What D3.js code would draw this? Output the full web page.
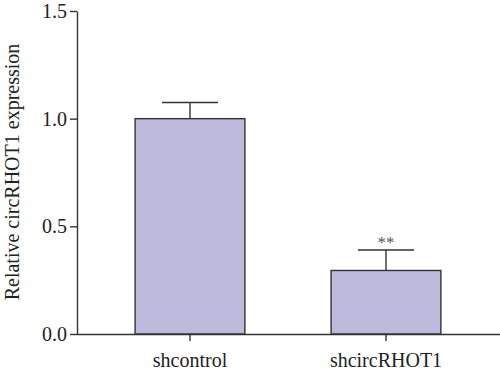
<!DOCTYPE html>
<html>
<head>
  <script src="https://d3js.org/d3.v7.min.js"></script>
  <style>
    body { margin: 0; background: #fff; }
  </style>
</head>
<body>
  <svg id="canvas" width="500" height="372"></svg>
</body>
<script>
  const groups = ["shcontrol", "shcircRHOT1"];
  const means = [1.0, 0.295];
  const errors = [0.075, 0.095];
  const marks = ["", "**"];
  const yTicks = [0, 0.5, 1.0, 1.5];

  const serif = "'Liberation Serif'";
  const svg = d3.select("svg");
  const axisX = 77, baseY = 334, topY = 11;

  const y = d3.scaleLinear().domain([0, 1.5]).range([baseY, topY]);
  const x = d3.scaleBand().domain(groups).range([92, 484]).padding(0);
  const barW = x.bandwidth() * 0.56;

  // bars
  svg.selectAll("rect.bar")
    .data(groups)
    .enter().append("rect")
      .attr("class", "bar")
      .attr("x", d => x(d) + (x.bandwidth() - barW) / 2)
      .attr("y", (d, i) => y(means[i]))
      .attr("width", barW)
      .attr("height", (d, i) => baseY - y(means[i]))
      .attr("fill", "#bebadc")
      .attr("stroke", "#333")
      .attr("stroke-width", 1.4);

  // error bars (upper only)
  const capW = barW * 0.51;
  groups.forEach((g, i) => {
    const cx = x(g) + x.bandwidth() / 2;
    const top = y(means[i] + errors[i]);
    svg.append("line")
      .attr("x1", cx).attr("x2", cx)
      .attr("y1", y(means[i])).attr("y2", top)
      .attr("stroke", "#333").attr("stroke-width", 1.4);
    svg.append("line")
      .attr("x1", cx - capW / 2).attr("x2", cx + capW / 2)
      .attr("y1", top).attr("y2", top)
      .attr("stroke", "#333").attr("stroke-width", 1.4);
    if (marks[i]) {
      svg.append("text")
        .attr("x", cx)
        .attr("y", top - 2)
        .attr("text-anchor", "middle")
        .style("font-family", serif)
        .style("font-size", "17px")
        .style("fill", "#555")
        .text(marks[i]);
    }
  });

  // y axis
  const yAxis = svg.append("g")
    .attr("transform", `translate(${axisX},0)`)
    .call(d3.axisLeft(y).tickValues(yTicks).tickFormat(d3.format(".1f")).tickSize(7).tickSizeOuter(0));
  yAxis.attr("font-family", null);
  yAxis.select(".domain").attr("stroke", "#333").attr("stroke-width", 1.4);
  yAxis.selectAll(".tick line").attr("stroke", "#333").attr("stroke-width", 1.4);
  yAxis.selectAll(".tick text")
    .attr("x", -10)
    .style("font-family", serif).style("font-size", "20px").style("fill", "#222");

  // x axis
  const xAxis = svg.append("g")
    .attr("transform", `translate(0,${baseY})`)
    .call(d3.axisBottom(x).tickSize(7).tickSizeOuter(0));
  xAxis.attr("font-family", null);
  xAxis.select(".domain").attr("d", `M${axisX},0.5H500`).attr("stroke", "#333").attr("stroke-width", 1.4);
  xAxis.selectAll(".tick line").attr("stroke", "#333").attr("stroke-width", 1.4);
  xAxis.selectAll(".tick text")
    .attr("dy", "1.15em")
    .style("font-family", serif).style("font-size", "20px").style("fill", "#222");

  // y title
  svg.append("text")
    .attr("transform", "translate(19,172) rotate(-90)")
    .attr("text-anchor", "middle")
    .style("font-family", serif)
    .style("font-size", "20px")
    .style("fill", "#222")
    .text("Relative circRHOT1 expression");
</script>
</html>
